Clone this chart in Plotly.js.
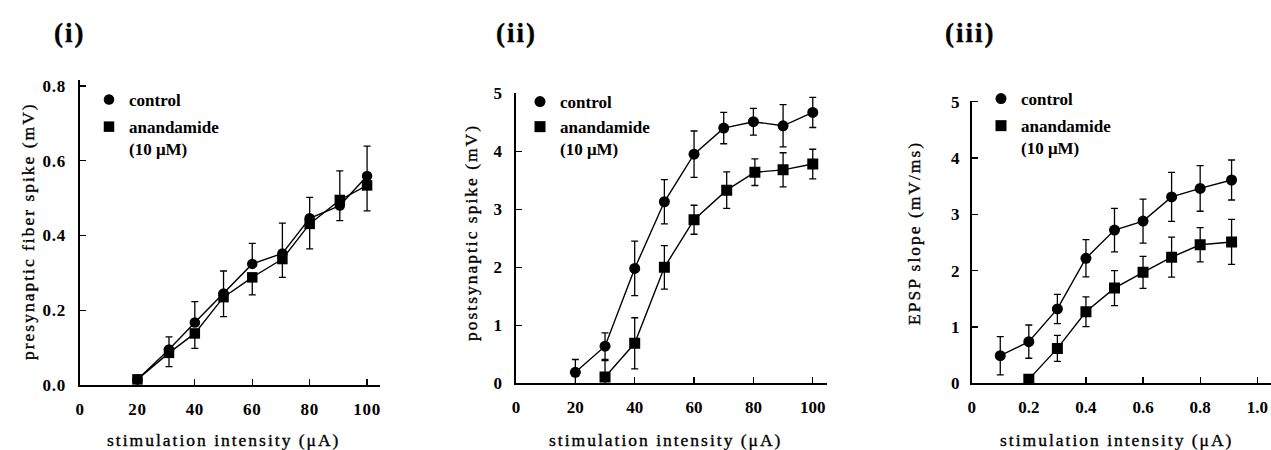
<!DOCTYPE html>
<html>
<head>
<meta charset="utf-8">
<script src="https://cdn.plot.ly/plotly-3.0.1.min.js"></script>
<style>
  html, body { margin: 0; padding: 0; background: #fff; }
  #chart { width: 1271px; height: 450px; }
  .annotation-text { letter-spacing: 2px; stroke: #000; stroke-width: 0.35px; }
  .xtick text, .ytick text { letter-spacing: 0.7px; }
</style>
</head>
<body>
<div id="chart"></div>
<script>
// ---------- data ----------
// (i) presynaptic fiber spike (mV)
const p1X = [20, 31, 40, 50, 60, 70.5, 80, 90.5, 100];
const p1Control = [0.015, 0.095, 0.167, 0.245, 0.324, 0.352, 0.446, 0.480, 0.559];
const p1ControlErrUp = [0, 0.034, 0.056, 0.06, 0.055, 0.081, 0.056, 0.093, 0.08];
const p1Anand = [0.015, 0.086, 0.138, 0.235, 0.288, 0.337, 0.431, 0.495, 0.534];
const p1AnandErrDown = [0, 0.037, 0.04, 0.052, 0.047, 0.049, 0.067, 0.055, 0.068];

// (ii) postsynaptic spike (mV)
const p2ControlX = [20, 30, 40, 50, 60, 70, 80, 90, 100];
const p2Control = [0.19, 0.64, 1.98, 3.13, 3.95, 4.40, 4.51, 4.44, 4.67];
const p2ControlErr = [0.22, 0.23, 0.47, 0.38, 0.40, 0.27, 0.23, 0.365, 0.26];
const p2AnandX = [30, 40, 50, 60, 71, 80.5, 90, 100];
const p2Anand = [0.11, 0.69, 2.0, 2.82, 3.33, 3.64, 3.68, 3.78];
const p2AnandErr = [0.28, 0.44, 0.375, 0.25, 0.315, 0.23, 0.295, 0.255];

// (iii) EPSP slope (mV/ms)
const p3ControlX = [0.1, 0.2, 0.3, 0.4, 0.5, 0.6, 0.7, 0.8, 0.91];
const p3Control = [0.49, 0.74, 1.32, 2.22, 2.72, 2.88, 3.31, 3.46, 3.61];
const p3ControlErr = [0.34, 0.295, 0.26, 0.33, 0.385, 0.39, 0.435, 0.405, 0.355];
const p3AnandX = [0.2, 0.3, 0.4, 0.5, 0.6, 0.7, 0.8, 0.91];
const p3Anand = [0.07, 0.62, 1.27, 1.69, 1.97, 2.24, 2.46, 2.51];
const p3AnandErr = [0, 0.23, 0.265, 0.31, 0.285, 0.355, 0.305, 0.40];

// tick labels
const p1XTicks = [0, 20, 40, 60, 80, 100];
const p1YTicks = [0, 0.2, 0.4, 0.6, 0.8];
const p1YTickText = ['0.0', '0.2', '0.4', '0.6', '0.8'];
const p23YTicks = [0, 1, 2, 3, 4, 5];
const p2XTicks = [0, 20, 40, 60, 80, 100];
const p3XTicks = [0, 0.2, 0.4, 0.6, 0.8, 1.0];
const p3XTickText = ['0', '0.2', '0.4', '0.6', '0.8', '1.0'];

const seriesNames = ['control', 'anandamide<br>(10 μM)'];
const panelLabels = ['(i)', '(ii)', '(iii)'];
const xTitle = 'stimulation intensity (μA)';
const yTitles = ['presynaptic fiber spike (mV)', 'postsynaptic spike (mV)', 'EPSP slope (mV/ms)'];

// ---------- build ----------
const W = 1271, H = 450;
const px = v => v / W;
const py = v => 1 - v / H;
const SERIF = 'Liberation Serif';

function lineTrace(x, y, xa, ya) {
  return { x, y, xaxis: xa, yaxis: ya, mode: 'lines', type: 'scatter',
    line: { color: '#000', width: 1.4 }, showlegend: false, hoverinfo: 'skip' };
}
function markerTrace(x, y, xa, ya, name, symbol, size, errUp, errDown, legend, group) {
  return { x, y, xaxis: xa, yaxis: ya, mode: 'markers', type: 'scatter', name,
    legend, legendgroup: group,
    marker: { symbol, size, color: '#000', line: { width: 0 } },
    error_y: { type: 'data', symmetric: false, array: errUp, arrayminus: errDown,
      color: '#000', thickness: 1.3, width: 3.5 },
    cliponaxis: true };
}

const traces = [
  lineTrace(p1X, p1Control, 'x', 'y'),
  lineTrace(p1X, p1Anand, 'x', 'y'),
  markerTrace(p1X, p1Control, 'x', 'y', seriesNames[0], 'circle', 10.5,
    p1ControlErrUp, p1ControlErrUp.map(() => 0), 'legend', 'a1'),
  markerTrace(p1X, p1Anand, 'x', 'y', seriesNames[1], 'square', 10.5,
    p1AnandErrDown.map(() => 0), p1AnandErrDown, 'legend', 'b1'),

  lineTrace(p2ControlX, p2Control, 'x2', 'y2'),
  lineTrace(p2AnandX, p2Anand, 'x2', 'y2'),
  markerTrace(p2ControlX, p2Control, 'x2', 'y2', seriesNames[0], 'circle', 11,
    p2ControlErr, p2ControlErr, 'legend2', 'a2'),
  markerTrace(p2AnandX, p2Anand, 'x2', 'y2', seriesNames[1], 'square', 11,
    p2AnandErr, p2AnandErr, 'legend2', 'b2'),

  lineTrace(p3ControlX, p3Control, 'x3', 'y3'),
  lineTrace(p3AnandX, p3Anand, 'x3', 'y3'),
  markerTrace(p3ControlX, p3Control, 'x3', 'y3', seriesNames[0], 'circle', 11,
    p3ControlErr, p3ControlErr, 'legend3', 'a3'),
  markerTrace(p3AnandX, p3Anand, 'x3', 'y3', seriesNames[1], 'square', 11,
    p3AnandErr, p3AnandErr, 'legend3', 'b3'),
];

const tickFont = { family: SERIF, size: 17, color: '#000', weight: 'bold' };
function axis(extra) {
  return Object.assign({
    showline: true, linecolor: '#000', linewidth: 1.7, mirror: false,
    ticks: 'inside', ticklen: 6, tickwidth: 1.3, tickcolor: '#000',
    showgrid: false, zeroline: false, tickfont: tickFont, fixedrange: true,
    tickmode: 'array'
  }, extra);
}

const legendFont = { family: SERIF, size: 17, color: '#000', weight: 'bold' };
function legend(x, y, gap) {
  return { x, y, xanchor: 'left', yanchor: 'top', font: legendFont,
    bgcolor: 'rgba(0,0,0,0)', borderwidth: 0, traceorder: 'grouped',
    tracegroupgap: gap, valign: 'top', itemclick: false, itemdoubleclick: false };
}

const annFont = { family: SERIF, size: 17.5, color: '#000' };
const annotations = [];
[[69, 33], [516, 33], [971, 33]].forEach((p, i) => {
  annotations.push({ text: panelLabels[i], xref: 'paper', yref: 'paper',
    x: px(p[0]), y: py(p[1]), xanchor: 'center', yanchor: 'middle', showarrow: false,
    font: { family: SERIF, size: 27, color: '#000', weight: 'bold' } });
});
[223, 665, 1116].forEach(cx => {
  annotations.push({ text: xTitle, xref: 'paper', yref: 'paper',
    x: px(cx), y: py(440), xanchor: 'center', yanchor: 'middle', showarrow: false, font: annFont });
});
[[28, 231], [471, 232], [914, 233]].forEach((p, i) => {
  annotations.push({ text: yTitles[i], xref: 'paper', yref: 'paper', textangle: -90,
    x: px(p[0]), y: py(p[1]), xanchor: 'center', yanchor: 'middle', showarrow: false, font: annFont });
});

const layout = {
  width: W, height: H,
  margin: { l: 0, r: 0, t: 0, b: 0, pad: 0 },
  paper_bgcolor: '#fff', plot_bgcolor: 'rgba(0,0,0,0)',
  font: { family: SERIF },
  showlegend: true,
  xaxis: axis({ domain: [px(80), px(380)], range: [0, 104.5], anchor: 'y',
    tickvals: p1XTicks, ticktext: p1XTicks.map(String), ticklabelstandoff: 8 }),
  yaxis: axis({ domain: [py(385), py(80)], range: [0, 0.816], anchor: 'x',
    tickvals: p1YTicks, ticktext: p1YTickText, ticklabelstandoff: 9 }),
  xaxis2: axis({ domain: [px(516), px(827)], range: [0, 104.8], anchor: 'y2',
    tickvals: p2XTicks, ticktext: p2XTicks.map(String), ticklabelstandoff: 8 }),
  yaxis2: axis({ domain: [py(383.3), py(93.3)], range: [0, 5.0], anchor: 'x2',
    tickvals: p23YTicks, ticktext: p23YTicks.map(String), ticklabelstandoff: 9 }),
  xaxis3: axis({ domain: [px(971.7), 1], range: [0, 1.048], anchor: 'y3',
    tickvals: p3XTicks, ticktext: p3XTickText, ticklabelstandoff: 8 }),
  yaxis3: axis({ domain: [py(383.3), py(100.7)], range: [0, 5.018], anchor: 'x3',
    tickvals: p23YTicks, ticktext: p23YTicks.map(String), ticklabelstandoff: 7 }),
  legend: legend(px(89), py(82), 2),
  legend2: legend(px(520), py(84), 0),
  legend3: legend(px(981), py(81), 2),
  annotations
};

Plotly.newPlot('chart', traces, layout, { displayModeBar: false, staticPlot: true });
</script>
</body>
</html>
